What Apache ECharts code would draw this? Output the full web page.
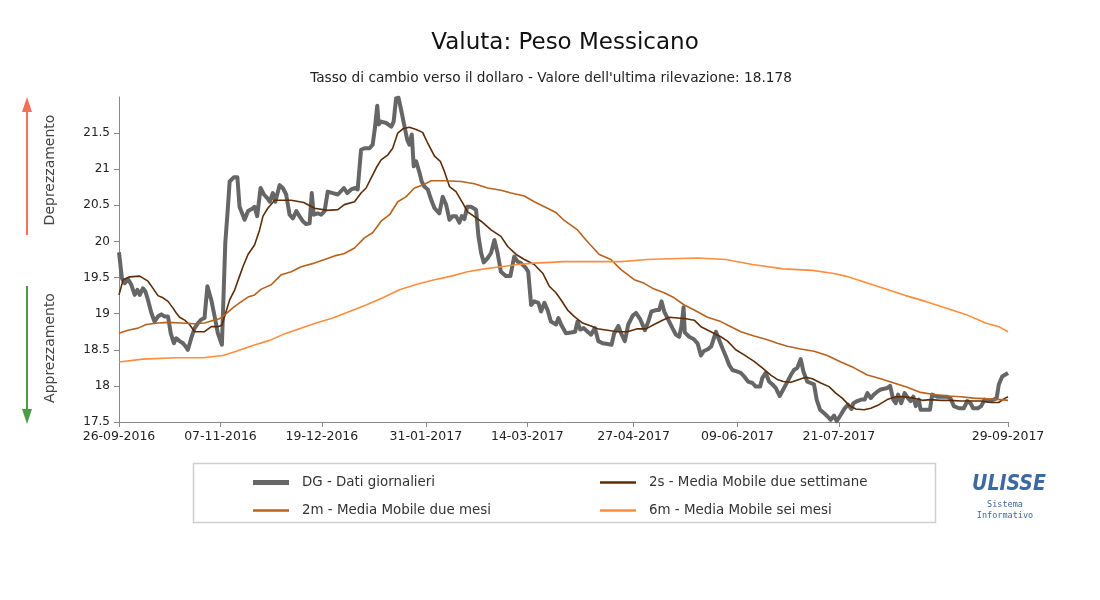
<!DOCTYPE html>
<html><head><meta charset="utf-8">
<script src="https://cdn.jsdelivr.net/npm/echarts@6/dist/echarts.min.js"></script>
<style>html,body{margin:0;padding:0;background:#fff}#c{width:1100px;height:600px}</style>
</head><body><div id="c"></div>
<script>
// ---- data ----
const startDate = '26-09-2016';
const tickDates = ['26-09-2016','07-11-2016','19-12-2016','31-01-2017','14-03-2017','27-04-2017','09-06-2017','21-07-2017','29-09-2017'];
const seriesNames = ['DG - Dati giornalieri','2s - Media Mobile due settimane','2m - Media Mobile due mesi','6m - Media Mobile sei mesi'];

// day offsets from startDate
const dgDays = [
0,1.2,2.4,3.7,5.1,6.5,7.6,8.6,9.9,10.9,
12.0,13.4,14.7,16.1,17.5,18.9,20.3,21.4,22.7,23.7,
25.1,26.5,27.5,28.5,29.9,31.3,32.7,34.1,35.4,36.6,
38.2,39.6,40.9,42.6,44.0,45.1,45.8,47.6,49.0,49.9,
50.6,52.0,53.4,55.0,56.1,57.2,58.6,60.0,61.4,62.4,
63.7,64.7,66.5,67.8,69.2,70.6,72.0,73.4,74.7,76.1,
77.5,78.9,79.8,80.6,82.3,83.7,85.1,86.4,88.5,90.6,
93.1,94.5,96.1,97.8,98.8,100.2,101.6,103.7,105.0,106.0,
106.9,107.5,108.5,110.6,112.7,113.7,114.7,115.7,116.8,118.2,
119.3,120.2,121.2,122.0,123.0,124.4,125.3,126.4,127.8,129.2,
130.6,132.6,134.0,135.4,136.8,138.1,139.5,140.9,141.9,143.0,
144.1,145.7,147.8,148.8,149.9,151.0,152.6,154.0,155.4,156.7,
158.1,160.2,162.0,163.6,165.0,166.4,168.5,169.4,170.6,171.9,
173.6,174.7,176.1,177.4,178.8,180.9,181.9,183.0,185.0,187.1,
188.8,189.8,190.9,192.3,194.0,195.4,197.0,198.4,200.2,202.2,
203.9,205.0,206.7,207.8,209.4,210.8,212.6,214.0,215.8,217.7,
219.1,220.4,222.3,223.6,224.6,225.7,227.3,229.1,230.5,231.9,
232.8,233.7,234.2,236.0,237.8,239.5,240.9,242.0,243.9,245.2,
247.1,248.4,249.8,251.2,252.6,253.9,255.7,257.4,258.8,260.4,
262.2,263.6,265.4,266.3,267.7,269.1,270.5,271.9,273.5,275.3,
276.7,278.1,279.4,280.8,282.2,283.3,284.9,286.3,287.7,288.8,
290.2,291.9,293.2,294.6,296.0,297.1,298.8,300.4,301.8,303.2,
304.0,305.6,307.3,308.7,309.8,311.2,312.5,313.9,315.3,316.7,
318.0,319.2,320.5,321.5,322.5,323.8,325.2,326.6,327.7,328.8,
329.8,331.1,331.8,333.9,335.7,336.6,338.7,340.8,342.8,344.2,
345.6,347.7,349.7,351.1,352.5,353.6,355.5,356.9,358.3,360.1,
362.1,363.3,364.2,365.6,368];
const dgValues = [
19.85,19.49,19.42,19.48,19.40,19.26,19.33,19.26,19.35,19.31,
19.19,19.01,18.89,18.96,18.99,18.96,18.96,18.73,18.59,18.66,
18.62,18.59,18.55,18.50,18.66,18.80,18.87,18.92,18.94,19.38,
19.19,18.96,18.73,18.57,19.98,20.48,20.83,20.89,20.89,20.48,
20.46,20.30,20.42,20.45,20.48,20.35,20.74,20.65,20.60,20.55,
20.67,20.55,20.78,20.74,20.65,20.37,20.32,20.42,20.35,20.28,
20.24,20.25,20.67,20.37,20.39,20.37,20.42,20.69,20.67,20.65,
20.74,20.67,20.72,20.74,20.72,21.27,21.29,21.29,21.34,21.59,
21.88,21.62,21.66,21.64,21.59,21.66,21.98,21.99,21.82,21.59,
21.41,21.34,21.48,21.04,21.11,20.95,20.83,20.76,20.72,20.58,
20.46,20.39,20.62,20.51,20.30,20.35,20.35,20.26,20.35,20.31,
20.48,20.48,20.44,20.07,19.84,19.71,19.77,19.84,20.02,19.84,
19.58,19.52,19.52,19.79,19.72,19.70,19.63,19.58,19.12,19.17,
19.15,19.03,19.15,19.05,18.89,18.85,18.94,18.85,18.73,18.74,
18.75,18.89,18.78,18.80,18.75,18.71,18.80,18.62,18.59,18.58,
18.57,18.73,18.83,18.73,18.62,18.85,18.97,19.01,18.92,18.77,
18.89,19.03,19.05,19.05,19.17,19.03,18.92,18.80,18.71,18.68,
18.82,19.09,18.74,18.68,18.65,18.59,18.42,18.48,18.51,18.55,
18.75,18.64,18.52,18.41,18.29,18.22,18.20,18.18,18.13,18.06,
18.04,17.99,17.99,18.11,18.18,18.06,18.02,17.97,17.86,17.97,
18.06,18.15,18.22,18.25,18.37,18.20,18.06,18.04,18.02,17.81,
17.67,17.62,17.58,17.53,17.59,17.51,17.60,17.69,17.74,17.68,
17.76,17.79,17.81,17.81,17.90,17.83,17.88,17.92,17.95,17.96,
17.97,18.00,17.81,17.76,17.88,17.76,17.90,17.83,17.79,17.85,
17.72,17.81,17.67,17.67,17.67,17.88,17.85,17.85,17.85,17.83,
17.72,17.69,17.69,17.79,17.76,17.69,17.69,17.72,17.81,17.79,
17.81,17.83,18.02,18.13,18.178];

const ma2sDays = [
0,1.7,4.4,8.6,12.0,14.1,16.1,18.2,20.3,22.3,
23.7,25.1,27.2,29.2,31.3,35.4,38.2,40.9,42.6,43.7,
45.8,47.9,49.9,51.3,53.4,56.1,58.2,59.6,61.6,64.4,
67.2,71.3,76.5,80.9,86.4,90.6,93.3,97.5,100.2,102.3,
104.4,106.5,108.5,111.3,113.3,115.4,117.5,120.2,123.0,125.7,
127.8,130.6,133.0,134.7,136.8,139.5,142.3,144.3,149.9,154.0,
158.1,160.9,164.4,167.8,171.9,175.4,178.1,180.9,183.0,185.7,
188.5,191.9,195.4,198.1,202.2,206.4,210.5,214.6,218.1,221.5,
225.0,227.8,231.2,234.7,238.1,240.9,245.0,249.1,251.9,255.3,
258.8,262.9,266.3,269.8,272.5,275.0,278.1,281.5,284.3,287.0,
290.5,293.9,296.7,299.4,302.2,305.0,308.4,311.2,314.6,318.0,
321.5,324.9,329.1,332.5,336.0,340.1,344.3,348.4,352.5,356.7,
360.8,364.2,366.3,368];
const ma2sValues = [
19.26,19.47,19.51,19.52,19.45,19.35,19.25,19.22,19.17,19.08,
19.01,18.95,18.91,18.85,18.75,18.75,18.82,18.82,18.84,18.96,
19.19,19.33,19.52,19.65,19.82,19.95,20.16,20.35,20.46,20.57,
20.57,20.57,20.54,20.46,20.43,20.44,20.51,20.55,20.67,20.74,
20.88,21.02,21.13,21.20,21.29,21.50,21.56,21.58,21.55,21.51,
21.36,21.18,21.11,20.97,20.76,20.69,20.53,20.41,20.28,20.16,
20.07,19.93,19.82,19.75,19.68,19.56,19.38,19.29,19.19,19.05,
18.96,18.87,18.83,18.79,18.77,18.75,18.75,18.79,18.79,18.85,
18.91,18.95,18.94,18.93,18.91,18.82,18.75,18.68,18.62,18.50,
18.43,18.34,18.25,18.15,18.09,18.06,18.05,18.09,18.12,18.10,
18.04,17.99,17.90,17.83,17.73,17.68,17.67,17.69,17.74,17.81,
17.85,17.85,17.83,17.80,17.81,17.80,17.80,17.79,17.79,17.79,
17.77,17.77,17.82,17.85];

const ma2mDays = [
0,3.7,7.9,11.3,16.1,20.3,25.8,31.3,35.4,38.2,
41.6,44.4,47.1,49.9,53.4,56.1,58.9,63.0,67.2,71.3,
75.4,80.9,85.1,89.2,93.1,97.5,101.6,105.0,108.5,112.0,
115.4,118.9,122.3,125.7,129.2,134.7,141.6,147.1,152.6,158.1,
162.3,167.8,171.9,176.1,180.9,184.0,189.8,193.3,198.8,203.6,
207.8,213.3,217.4,221.5,225.7,229.8,234.0,238.1,243.6,249.1,
253.3,257.4,262.9,268.4,272.5,276.7,282.2,287.7,293.2,298.8,
304.3,309.8,315.3,320.8,326.3,331.8,337.4,342.8,348.4,353.9,
359.4,364.9,368];
const ma2mValues = [
18.73,18.77,18.80,18.85,18.87,18.88,18.87,18.86,18.87,18.90,
18.93,19.00,19.08,19.15,19.23,19.26,19.34,19.40,19.54,19.58,
19.65,19.70,19.75,19.80,19.83,19.91,20.05,20.12,20.28,20.37,
20.55,20.62,20.74,20.78,20.84,20.84,20.83,20.80,20.74,20.71,
20.67,20.63,20.55,20.48,20.40,20.30,20.16,20.02,19.82,19.75,
19.61,19.47,19.42,19.34,19.29,19.22,19.12,19.05,18.95,18.89,
18.82,18.75,18.69,18.64,18.59,18.55,18.51,18.48,18.42,18.33,
18.25,18.15,18.10,18.04,17.98,17.91,17.88,17.86,17.85,17.83,
17.82,17.81,17.80];

const ma6mDays = [
0,9.9,23.7,34.7,43.0,48.6,55.4,62.3,67.8,74.7,
81.6,88.5,95.4,102.3,109.2,116.1,123.7,130.6,137.5,144.3,
151.2,158.1,165.0,171.9,178.8,184.0,194.0,207.8,218.8,228.5,
239.5,251.2,262.2,275.0,287.0,295.3,300.8,309.1,317.4,325.6,
333.9,342.2,350.5,358.7,364.2,368];
const ma6mValues = [
18.33,18.37,18.39,18.39,18.42,18.48,18.56,18.63,18.71,18.79,
18.87,18.94,19.03,19.12,19.22,19.33,19.41,19.47,19.52,19.58,
19.62,19.65,19.68,19.70,19.71,19.72,19.72,19.72,19.75,19.76,
19.77,19.75,19.68,19.62,19.60,19.56,19.52,19.43,19.34,19.25,
19.17,19.08,18.99,18.87,18.82,18.75];

const yMin = 17.5, yMax = 22, yStep = 0.5;

// ---- helpers ----
function parseDate(s){ const p = s.split('-'); return Date.UTC(+p[2], +p[1]-1, +p[0]); }
const t0 = parseDate(startDate);
const DAY = 86400000;
const tickDays = tickDates.map(s => Math.round((parseDate(s) - t0) / DAY));
const xMax = tickDays[tickDays.length - 1];
function fmt(v){
  const d = new Date(t0 + Math.round(v) * DAY);
  const p = n => (n < 10 ? '0' : '') + n;
  return p(d.getUTCDate()) + '-' + p(d.getUTCMonth()+1) + '-' + d.getUTCFullYear();
}
const zip = (a, b) => a.map((x, i) => [x, b[i]]);

const colors = ['#666666', '#5c2d08', '#b8621d', '#fd8d3c'];
const widths = [4, 1.6, 1.6, 1.6];
const seriesData = [zip(dgDays, dgValues), zip(ma2sDays, ma2sValues), zip(ma2mDays, ma2mValues), zip(ma6mDays, ma6mValues)];

const FONT = 'DejaVu Sans';
const chart = echarts.init(document.getElementById('c'), null, {renderer: 'canvas'});
const thick = 'path://M0,0H36V5H0Z', thin = 'path://M0,0H36V2.4H0Z';
const legendCommon = {
  orient: 'vertical', itemWidth: 36, itemHeight: 14, itemGap: 15, top: 476, padding: 0,
  textStyle: {fontFamily: FONT, fontSize: 13.4, color: '#333', padding: [0,0,0,8]},
  selectedMode: false
};
chart.setOption({
  animation: false,
  backgroundColor: '#fff',
  title: [
    {text: 'Valuta: Peso Messicano', left: 560, top: 27, textAlign: 'center',
     textStyle: {fontFamily: FONT, fontSize: 23, fontWeight: 'normal', color: '#111'}},
    {text: "Tasso di cambio verso il dollaro - Valore dell'ultima rilevazione: 18.178", left: 546, top: 66, textAlign: 'center',
     textStyle: {fontFamily: FONT, fontSize: 13.7, fontWeight: 'normal', color: '#222'}}
  ],
  legend: [
    Object.assign({left: 253, data: [
      {name: seriesNames[0], icon: thick},
      {name: seriesNames[2], icon: thin}]}, legendCommon),
    Object.assign({left: 600, data: [
      {name: seriesNames[1], icon: thin},
      {name: seriesNames[3], icon: thin}]}, legendCommon)
  ],
  grid: {left: 119, right: 92, top: 97, bottom: 178, containLabel: false},
  xAxis: {
    type: 'value', min: 0, max: xMax,
    axisLine: {lineStyle: {color: '#888', width: 1}},
    axisTick: {show: true, length: 5, lineStyle: {color: '#888'}, customValues: tickDays},
    axisLabel: {customValues: tickDays, formatter: v => fmt(v), fontFamily: FONT, fontSize: 12.5, color: '#222', margin: 8},
    splitLine: {show: false}
  },
  yAxis: {
    type: 'value', min: yMin, max: yMax, interval: yStep,
    axisLine: {show: true, lineStyle: {color: '#888', width: 1}},
    axisTick: {show: true, length: 5, lineStyle: {color: '#888'}},
    axisLabel: {showMaxLabel: false, fontFamily: FONT, fontSize: 12, color: '#222', margin: 9},
    splitLine: {show: false}
  },
  series: seriesNames.map((n, i) => ({
    name: n, type: 'line', data: seriesData[i], showSymbol: false, symbol: 'none',
    lineStyle: {color: colors[i], width: widths[i], join: 'round'}, itemStyle: {color: colors[i]},
    z: 2 + i
  })),
  graphic: [
    {type: 'rect', shape: {x: 193.5, y: 463.5, width: 742, height: 59}, style: {fill: 'none', stroke: '#cfcfcf', lineWidth: 1.5}, silent: true},
    {type: 'line', shape: {x1: 27, y1: 235, x2: 27, y2: 110}, style: {stroke: '#f4705b', lineWidth: 2}},
    {type: 'polygon', shape: {points: [[22, 112], [32, 112], [27, 97]]}, style: {fill: '#f4705b'}},
    {type: 'line', shape: {x1: 27, y1: 286, x2: 27, y2: 411}, style: {stroke: '#4f9a48', lineWidth: 2}},
    {type: 'polygon', shape: {points: [[22, 409], [32, 409], [27, 424]]}, style: {fill: '#4f9a48'}},
    {type: 'text', x: 50, y: 170, rotation: Math.PI/2, style: {text: 'Deprezzamento', fontFamily: FONT, fontSize: 14, fill: '#444', align: 'center', verticalAlign: 'middle'}},
    {type: 'text', x: 50, y: 348, rotation: Math.PI/2, style: {text: 'Apprezzamento', fontFamily: FONT, fontSize: 14, fill: '#444', align: 'center', verticalAlign: 'middle'}},
    {type: 'text', x: 1009, y: 485, style: {text: 'ULISSE', fontFamily: 'DejaVu Sans Condensed', fontWeight: 'bold', fontStyle: 'italic', fontSize: 21, fill: '#3c69a0', align: 'center', verticalAlign: 'middle'}},
    {type: 'text', x: 1005, y: 505, style: {text: 'Sistema', fontFamily: 'DejaVu Sans Mono', fontSize: 8.5, fill: '#3c69a0', align: 'center', verticalAlign: 'middle'}},
    {type: 'text', x: 1005, y: 516, style: {text: 'Informativo', fontFamily: 'DejaVu Sans Mono', fontSize: 8.5, fill: '#3c69a0', align: 'center', verticalAlign: 'middle'}}
  ]
});
</script>
</body></html>
